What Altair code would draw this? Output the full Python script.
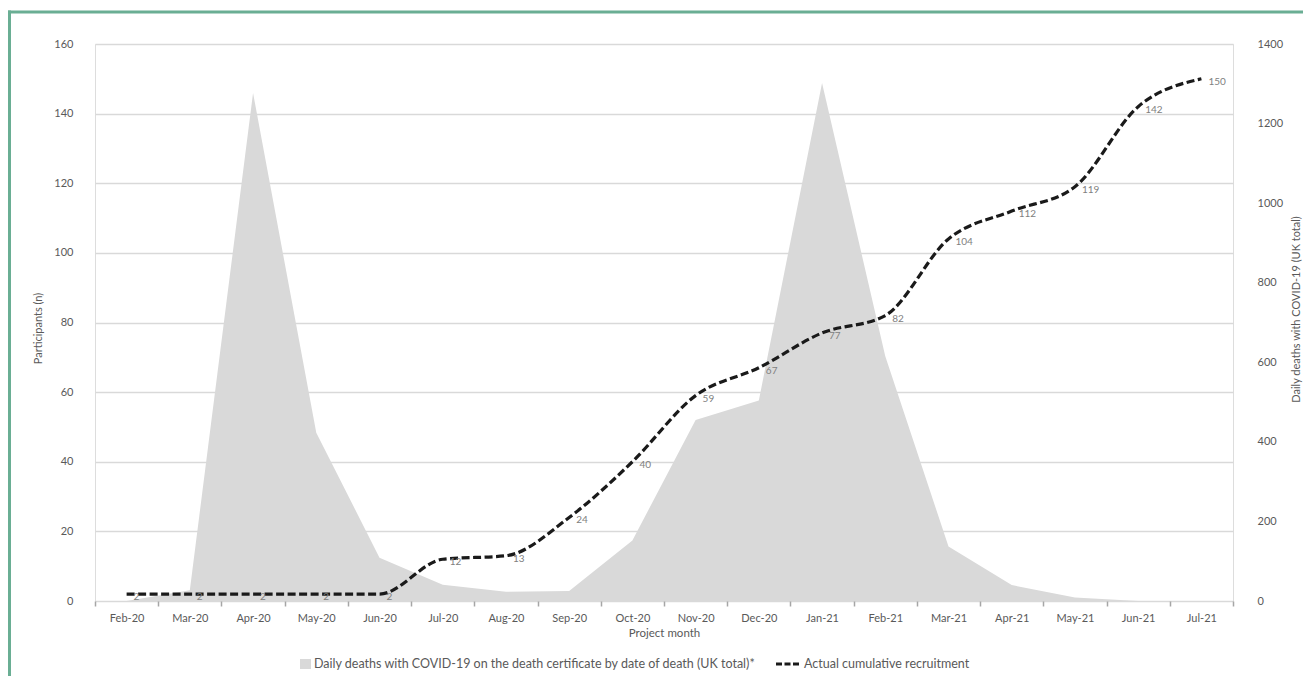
import altair as alt
import pandas as pd

months = ["Feb-20", "Mar-20", "Apr-20", "May-20", "Jun-20", "Jul-20", "Aug-20", "Sep-20",
          "Oct-20", "Nov-20", "Dec-20", "Jan-21", "Feb-21", "Mar-21", "Apr-21", "May-21",
          "Jun-21", "Jul-21"]
participants = [2, 2, 2, 2, 2, 12, 13, 24, 40, 59, 67, 77, 82, 104, 112, 119, 142, 150]
deaths = [0, 27, 1277, 423, 109, 41, 23, 25, 152, 455, 504, 1302, 615, 137, 40, 9, 0, 0]

legend_area = "Daily deaths with COVID-19 on the death certificate by date of death (UK total)*"
legend_line = "Actual cumulative recruitment"
left_title = "Participants (n)"
right_title = "Daily deaths with COVID-19 (UK total)"
x_title = "Project month"

FONT = "Lato"
TXT = "#595959"
W, H = 1138, 557

df = pd.DataFrame({"month": months, "participants": participants, "deaths": deaths})
df["lab"] = df["participants"].astype(str)
one = pd.DataFrame({"k": [0]})

xaxis = alt.Axis(title=x_title, labelAngle=0, tickBand="extent", tickSize=5,
                 tickColor="#a6a6a6", tickWidth=1.5, domain=False,
                 labelPadding=6, labelFontSize=11, labelColor=TXT,
                 titleFontSize=11.5, titleColor=TXT, titleFontWeight="normal",
                 titlePadding=4, labelFont=FONT, titleFont=FONT)
xenc = alt.X("month:N", sort=months, bandPosition=0.5,
             scale=alt.Scale(type="band", paddingInner=0, paddingOuter=0), axis=xaxis)

left_axis = alt.Axis(orient="left", values=list(range(0, 161, 20)), format="d", grid=True,
                     gridColor="#d9d9d9", gridWidth=1.5, ticks=False, tickSize=0,
                     domain=False, labelPadding=22, labelFontSize=11, labelColor=TXT,
                     labelFont=FONT, title=left_title, titleFontSize=11,
                     titleColor=TXT, titleFontWeight="normal", titleFont=FONT,
                     titleAngle=270, titleAlign="center", titleBaseline="middle",
                     titleX=-57, titleY=284)
right_axis = alt.Axis(orient="right", values=list(range(0, 1401, 200)), format="d",
                      grid=False, ticks=False, tickSize=0, domain=False, labelPadding=24,
                      labelFontSize=11, labelColor=TXT, labelFont=FONT,
                      title=right_title, titleFontSize=11, titleColor=TXT,
                      titleFontWeight="normal", titleFont=FONT, titleAngle=270,
                      titleAlign="center", titleBaseline="middle", titleX=63, titleY=265)

area = alt.Chart(df).mark_area(color="#d9d9d9", opacity=1).encode(
    x=xenc,
    y=alt.Y("deaths:Q", scale=alt.Scale(domain=[0, 1400]), axis=right_axis),
)

line = alt.Chart(df).mark_line(color="#1a1a1a", strokeWidth=3.2, strokeDash=[8, 3.5],
                               interpolate="monotone").encode(
    x=xenc,
    y=alt.Y("participants:Q", scale=alt.Scale(domain=[0, 160]), axis=left_axis),
)

labels = alt.Chart(df).mark_text(align="left", baseline="middle", dx=7, dy=3,
                                 fontSize=10, color="#808080", font=FONT).encode(
    x=xenc,
    y=alt.Y("participants:Q", scale=alt.Scale(domain=[0, 160]), axis=left_axis),
    text="lab:N",
)

left_group = alt.layer(line, labels)

# legend (manual)
LY = 620
sw1 = alt.Chart(one).mark_rect(color="#d9d9d9").encode(
    x=alt.value(205), x2=alt.value(216), y=alt.value(LY - 5), y2=alt.value(LY + 5))
t1 = alt.Chart(one).mark_text(align="left", baseline="middle", fontSize=12.5, color=TXT,
                              font=FONT).encode(
    x=alt.value(219), y=alt.value(LY), text=alt.value(legend_area))
sw2 = alt.Chart(one).mark_rule(color="#1a1a1a", strokeWidth=3, strokeDash=[6, 2.5]).encode(
    x=alt.value(681), x2=alt.value(706), y=alt.value(LY))
t2 = alt.Chart(one).mark_text(align="left", baseline="middle", fontSize=12.5, color=TXT,
                              font=FONT).encode(
    x=alt.value(709), y=alt.value(LY), text=alt.value(legend_line))

# green frame
FR = "#6aae94"
ftop = alt.Chart(one).mark_rule(color=FR, strokeWidth=3).encode(
    x=alt.value(-87), x2=alt.value(W + 70), y=alt.value(-32))
fleft = alt.Chart(one).mark_rule(color=FR, strokeWidth=3).encode(
    x=alt.value(-85.5), y=alt.value(-33.5), y2=alt.value(640))

chart = alt.layer(area, left_group, sw1, t1, sw2, t2, ftop, fleft).resolve_scale(
    y="independent"
).properties(
    width=W, height=H,
    autosize=alt.AutoSizeParams(type="none"),
    padding={"left": 87, "top": 36, "right": 70, "bottom": 75},
).configure_view(
    stroke="#7f7f7f", strokeWidth=2
).configure(background="white")

chart.save("out.html", embed_options={"renderer": "svg", "actions": False})
